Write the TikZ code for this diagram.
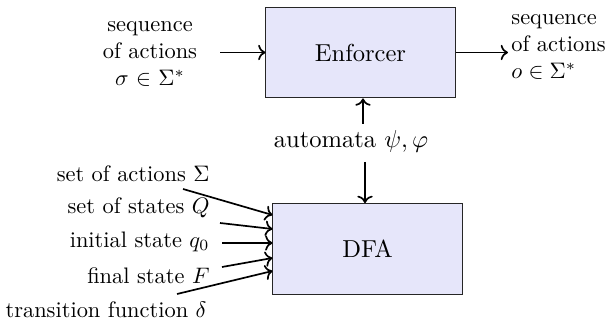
\documentclass[tikz,border=0pt]{standalone}
\usetikzlibrary{arrows.meta}
\definecolor{boxfill}{RGB}{230,230,250}
\begin{document}
\begin{tikzpicture}[x=0.4444bp,y=-0.4444bp,
  big/.style={font=\fontsize{10.95}{13.6}\selectfont},
  box/.style={big,draw=black!85,line width=0.45bp,fill=boxfill,minimum width=84bp,minimum height=40.4bp,inner sep=0pt},
  arr/.style={->,line width=0.75bp},
  lbl/.style={anchor=east,inner sep=0pt}]
\useasboundingbox (0,0) rectangle (612,324);
\node[box] (enf) at (360.5,52.5) {Enforcer};
\node[box] (dfa) at (367.5,249) {DFA};
\node[align=center,inner sep=0pt] (inL) at (150,54) {sequence\\of actions\\$\sigma$ $\in$ $\Sigma^*$};
\node[align=left,anchor=west,inner sep=0pt] (outR) at (511,47) {sequence\\of actions\\$o\in\Sigma^*$};
\node[big,inner sep=0pt] (lab) at (351,141) {automata $\psi,\varphi$};
\coordinate (a0) at (220,52.5);
\coordinate (a1) at (508,52.5);
\draw[arr] (a0) -- (enf.west);
\draw[arr] (enf.east) -- (a1);
\coordinate (u0) at (363,124);
\coordinate (d0) at (365,162);
\draw[arr] (u0) -- (u0 |- enf.south);
\draw[arr] (d0) -- (d0 |- dfa.north);
\node[lbl] (l1) at (210,174) {set of actions $\Sigma$};
\node[lbl] (l2) at (210,208) {set of states $Q$};
\node[lbl] (l3) at (210,242) {initial state $q_0$};
\node[lbl] (l4) at (210,276) {final state $F$};
\node[lbl] (l5) at (207,310) {transition function $\delta$};
\coordinate (s1) at (183,189);
\coordinate (s2) at (220,223);
\coordinate (s3) at (222,243);
\coordinate (s4) at (222,267);
\coordinate (s5) at (177,294);
\draw[arr] (s1) -- (dfa.west |- 0,215);
\draw[arr] (s2) -- (dfa.west |- 0,229);
\draw[arr] (s3) -- (dfa.west |- 0,243);
\draw[arr] (s4) -- (dfa.west |- 0,258);
\draw[arr] (s5) -- (dfa.west |- 0,271);
\end{tikzpicture}
\end{document}
